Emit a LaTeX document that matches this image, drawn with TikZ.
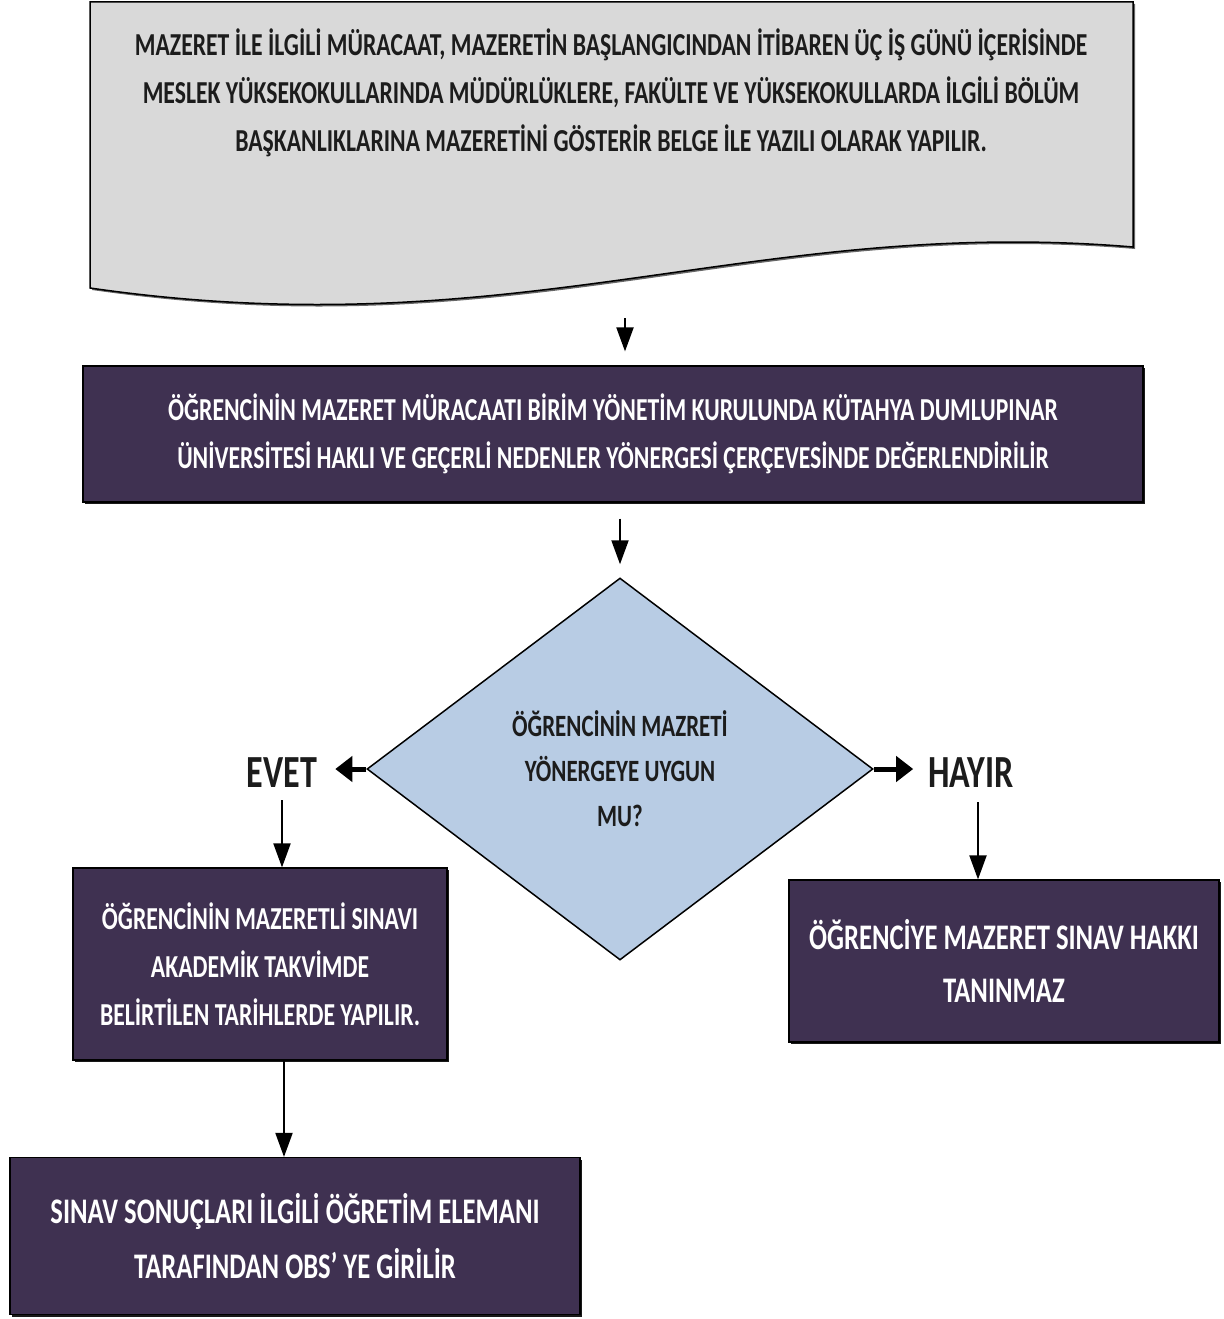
\documentclass[tikz,border=0pt]{standalone}
\usepackage{fontspec}
\setmainfont{Carlito}
\newfontfamily\flowfont[FakeStretch=0.74]{Carlito}
\usetikzlibrary{shapes.geometric,arrows.meta,shadows}

\definecolor{boxpurple}{HTML}{3F3151}
\definecolor{diamondblue}{HTML}{B8CCE4}
\definecolor{docgray}{HTML}{D9D9D9}
\definecolor{textdark}{HTML}{1C1C1C}

\tikzset{
  flowtext/.style={font=\flowfont\bfseries\fontsize{32}{48}\selectfont, align=center},
  purplebox/.style={flowtext, rectangle, draw=black, line width=1.2pt, fill=boxpurple, text=white, inner sep=0pt,
    drop shadow={shadow xshift=2pt, shadow yshift=-2pt, opacity=0.9, fill=black}},
  decision/.style={flowtext, diamond, draw=black, line width=1.5pt, fill=diamondblue, text=textdark, inner sep=0pt,
    font=\flowfont\bfseries\fontsize{31}{45}\selectfont},
  answer/.style={font=\flowfont\bfseries\fontsize{46}{50}\selectfont, text=textdark, inner sep=0pt},
  downarrow/.style={-{Triangle[length=24pt,width=17pt]}, line width=2pt},
  sidearrow/.style={-{Triangle[length=17pt,width=25pt]}, line width=5pt},
}

\begin{document}
\begin{tikzpicture}[x=1pt, y=-1pt]
\useasboundingbox (0,0) rectangle (1223,1319);

% belge
\draw[fill=docgray, line width=1.5pt, drop shadow={shadow xshift=2pt, shadow yshift=-2pt, opacity=0.6, fill=black}]
  (90,2) -- (1133,2) -- (1133,247) .. controls (750,215) and (520,350) .. (90,288) -- cycle;
\node[flowtext, text=textdark] (doc) at (611,93)
  {MAZERET İLE İLGİLİ MÜRACAAT, MAZERETİN BAŞLANGICINDAN İTİBAREN ÜÇ İŞ GÜNÜ İÇERİSİNDE\\
   MESLEK YÜKSEKOKULLARINDA MÜDÜRLÜKLERE, FAKÜLTE VE YÜKSEKOKULLARDA İLGİLİ BÖLÜM\\
   BAŞKANLIKLARINA MAZERETİNİ GÖSTERİR BELGE İLE YAZILI OLARAK YAPILIR.};
\coordinate (docend) at (625,318);

\node[purplebox, minimum width=1060pt, minimum height=136pt] (degerlendirme) at (613,434)
  {ÖĞRENCİNİN MAZERET MÜRACAATI BİRİM YÖNETİM KURULUNDA KÜTAHYA DUMLUPINAR\\
   ÜNİVERSİTESİ HAKLI VE GEÇERLİ NEDENLER YÖNERGESİ ÇERÇEVESİNDE DEĞERLENDİRİLİR};

\node[decision, minimum width=506pt, minimum height=382pt] (karar) at (620,769)
  {ÖĞRENCİNİN MAZRETİ\\ YÖNERGEYE UYGUN\\ MU?};

\node[answer] (evet) at (282,773) {EVET};
\node[answer] (hayir) at (971,773) {HAYIR};

\node[purplebox, minimum width=374pt, minimum height=192pt] (sinav) at (260,964)
  {ÖĞRENCİNİN MAZERETLİ SINAVI\\ AKADEMİK TAKVİMDE\\ BELİRTİLEN TARİHLERDE YAPILIR.};
\node[purplebox, minimum width=430pt, minimum height=162pt, font=\flowfont\bfseries\fontsize{36}{53}\selectfont] (hakyok) at (1004,961)
  {ÖĞRENCİYE MAZERET SINAV HAKKI\\ TANINMAZ};
\node[purplebox, minimum width=570pt, minimum height=157pt, font=\flowfont\bfseries\fontsize{36}{55}\selectfont] (obs) at (295,1236)
  {SINAV SONUÇLARI İLGİLİ ÖĞRETİM ELEMANI\\ TARAFINDAN OBS’ YE GİRİLİR};

\draw[downarrow, shorten >=14pt] (docend) -- (docend |- degerlendirme.north);
\draw[downarrow, shorten <=16pt, shorten >=13pt] (degerlendirme.south -| karar.north) -- (karar.north);
\draw[sidearrow, shorten >=18pt] (karar.west) -- (karar.west -| evet.east);
\draw[sidearrow, shorten >=15pt] (karar.east) -- (karar.east -| hayir.west);
\draw[downarrow, shorten <=12pt] (evet.south) -- (evet.south |- sinav.north);
\draw[downarrow, shorten <=14pt] ([xshift=7pt]hayir.south) -- ([xshift=7pt]hayir.south |- hakyok.north);
\draw[downarrow] ([xshift=24pt]sinav.south) -- ([xshift=24pt]sinav.south |- obs.north);
\end{tikzpicture}
\end{document}
